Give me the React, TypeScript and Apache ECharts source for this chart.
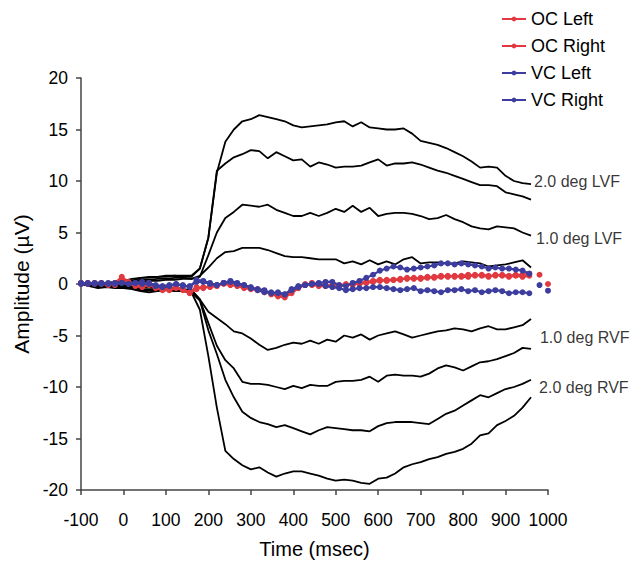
import React, { useEffect, useRef } from "react";
import * as echarts from "echarts";

// Time grid of the black evoked-response curves (msec)
const timeBlack = [-100, -80, -60, -40, -20,
  0, 20, 40, 60, 80, 100, 120, 140, 160,
  180, 200, 220, 240, 260, 280, 300, 320, 340, 360,
  380, 400, 420, 440, 460, 480, 500, 520, 540, 560,
  580, 600, 620, 640, 660, 680, 700, 720, 740, 760,
  780, 800, 820, 840, 860, 880, 900, 920, 940, 960];

const posA = [0.1, 0.1, 0.0, 0.1, 0.2,
  0.2, 0.3, 0.6, 0.7, 0.7, 0.7, 0.8, 0.8, 0.8,
  1.5, 4.5, 10.8, 13.8, 15.0, 15.8, 16.0, 16.4, 16.2, 16.0,
  15.8, 15.4, 15.2, 15.3, 15.4, 15.5, 15.7, 15.8, 15.3, 15.7,
  15.2, 15.1, 15.0, 15.0, 15.1, 14.6, 13.9, 13.7, 13.5, 13.2,
  12.8, 12.4, 11.9, 11.3, 11.4, 11.3, 10.5, 10.0, 9.8, 9.7];
const posB = [0.1, 0.0, 0.1, 0.0, 0.1,
  0.3, 0.5, 0.6, 0.6, 0.7, 0.8, 0.8, 0.7, 0.7,
  1.5, 4.5, 11.0, 11.7, 12.3, 12.6, 13.0, 12.9, 12.2, 12.8,
  12.4, 12.0, 12.1, 11.4, 11.8, 11.6, 11.3, 11.4, 11.4, 11.5,
  11.8, 12.1, 11.5, 11.7, 11.7, 11.8, 11.6, 11.3, 11.0, 10.8,
  10.5, 10.2, 9.9, 9.6, 9.6, 9.5, 8.9, 8.7, 8.5, 8.2];
const posC = [0.1, 0.0, 0.0, 0.1, 0.0,
  0.1, 0.3, 0.4, 0.4, 0.5, 0.5, 0.6, 0.6, 0.5,
  0.7, 2.8, 5.0, 6.4, 7.0, 7.7, 7.6, 7.5, 7.7, 7.2,
  6.9, 6.6, 6.6, 6.9, 6.6, 6.9, 7.3, 7.0, 7.6, 7.0,
  7.4, 6.6, 6.8, 6.9, 6.9, 6.8, 6.6, 6.3, 6.4, 6.7,
  6.3, 6.0, 5.6, 5.4, 5.3, 5.6, 5.5, 5.4, 5.0, 4.7];
const posD = [0.0, 0.0, -0.1, 0.0, 0.1,
  0.0, 0.1, 0.2, 0.3, 0.3, 0.4, 0.4, 0.5, 0.5,
  0.8, 1.6, 2.5, 3.1, 3.2, 3.5, 3.5, 3.5, 3.3, 3.0,
  2.7, 2.6, 2.6, 2.5, 2.4, 2.4, 2.4, 2.0, 2.2, 1.9,
  2.3, 1.9, 2.2, 1.9, 2.4, 2.6, 2.0, 2.1, 2.1, 2.0,
  2.0, 2.2, 2.1, 2.0, 1.7, 1.8, 1.9, 2.1, 2.3, 1.6];
const negA = [0.0, 0.1, -0.1, 0.0, -0.1,
  -0.1, -0.2, -0.3, -0.3, -0.4, -0.4, -0.4, -0.5, -0.6,
  -1.5, -2.7, -3.3, -3.9, -4.6, -4.8, -5.3, -5.9, -6.4, -6.2,
  -5.9, -5.7, -5.8, -5.5, -5.8, -5.4, -5.6, -5.0, -5.2, -4.9,
  -5.4, -5.0, -4.8, -4.6, -4.9, -5.2, -5.0, -4.8, -4.6, -4.5,
  -4.3, -4.4, -4.6, -4.3, -4.1, -4.4, -4.4, -4.2, -4.0, -3.4];
const negB = [0.0, 0.0, -0.2, -0.1, -0.2,
  -0.2, -0.3, -0.5, -0.5, -0.5, -0.6, -0.5, -0.6, -0.6,
  -1.5, -3.8, -6.0, -7.4, -8.2, -9.5, -9.7, -9.7, -9.8, -10.0,
  -10.2, -9.9, -10.1, -9.8, -9.9, -9.9, -9.5, -9.4, -9.4, -9.3,
  -9.0, -9.5, -8.9, -8.8, -8.9, -8.9, -9.0, -8.7, -8.2, -7.9,
  -8.1, -8.4, -8.0, -7.6, -7.5, -7.3, -7.0, -6.7, -6.2, -6.3];
const negC = [0.0, -0.1, -0.3, -0.2, -0.3,
  -0.3, -0.4, -0.6, -0.6, -0.6, -0.6, -0.6, -0.7, -0.8,
  -1.6, -4.5, -6.8, -9.3, -11.0, -12.4, -13.0, -13.4, -13.6, -13.9,
  -13.7, -14.0, -14.3, -14.6, -14.2, -13.9, -14.0, -14.1, -14.2, -14.2,
  -14.3, -13.8, -13.5, -13.4, -13.4, -13.4, -13.5, -13.6, -13.1, -12.6,
  -12.3, -11.8, -11.3, -10.8, -11.0, -10.6, -10.2, -10.0, -9.7, -9.3];
const negD = [0.0, -0.2, -0.4, -0.3, -0.4,
  -0.4, -0.5, -0.7, -0.8, -0.7, -0.6, -0.7, -0.7, -0.8,
  -2.5, -7.0, -12.0, -16.2, -17.0, -17.6, -18.0, -17.8, -18.3, -18.7,
  -18.4, -18.2, -18.2, -18.4, -18.6, -18.9, -19.1, -19.0, -19.1, -19.3,
  -19.4, -18.9, -18.8, -18.4, -17.8, -17.5, -17.3, -17.0, -16.8, -16.5,
  -16.3, -16.0, -15.5, -14.7, -14.5, -13.7, -13.3, -12.8, -12.0, -11.0];

// Time grid of the coloured (dotted) series (msec)
const timeColor = [-100, -84, -68, -52, -36, -20, -4, 12, 28, 44,
  60, 76, 92, 108, 124, 140, 156, 172, 188, 204,
  220, 236, 252, 268, 284, 300, 316, 332, 348, 364,
  380, 396, 412, 428, 444, 460, 476, 492, 508, 524,
  540, 556, 572, 588, 604, 620, 636, 652, 668, 684,
  700, 716, 732, 748, 764, 780, 796, 812, 828, 844,
  860, 876, 892, 908, 924, 940, 956];

const ocLeft = [0.1, 0.0, 0.1, 0.0, -0.1, 0.1, 0.7, 0.2, 0.0, -0.1,
  0.1, -0.3, -0.6, -0.4, -0.3, -0.5, -0.8, -0.3, -0.4, -0.2,
  -0.1, 0.0, -0.1, -0.2, -0.4, -0.5, -0.6, -0.7, -1.0, -1.2,
  -1.3, -0.9, -0.4, -0.1, 0.1, 0.0, -0.1, -0.2, -0.1, 0.0,
  -0.1, 0.1, 0.2, 0.3, 0.4, 0.3, 0.4, 0.5, 0.5, 0.6,
  0.5, 0.6, 0.7, 0.8, 0.7, 0.8, 0.7, 0.7, 0.9, 0.8,
  0.7, 0.9, 0.8, 0.7, 0.8, 0.7, 0.8];
const ocRight = [0.0, 0.1, 0.0, 0.1, 0.0, -0.1, 0.3, 0.1, -0.2, -0.3,
  -0.1, -0.4, -0.5, -0.6, -0.4, -0.6, -0.9, -0.5, -0.3, -0.3,
  -0.2, 0.1, 0.0, -0.1, -0.3, -0.4, -0.5, -0.8, -0.9, -1.1,
  -1.1, -0.7, -0.3, 0.0, -0.1, -0.2, -0.2, -0.1, -0.2, -0.1,
  0.0, 0.0, 0.1, 0.2, 0.3, 0.4, 0.4, 0.4, 0.6, 0.5,
  0.6, 0.7, 0.6, 0.7, 0.8, 0.7, 0.8, 0.9, 0.8, 0.9,
  0.8, 0.8, 0.9, 0.8, 0.9, 0.9, 1.0];
const vcLeft = [0.1, 0.0, 0.1, 0.1, 0.0, 0.1, 0.1, 0.0, 0.1, 0.2,
  0.0, -0.2, -0.3, -0.2, 0.0, -0.1, -0.3, 0.4, 0.3, 0.1,
  -0.1, 0.1, 0.3, 0.1, -0.1, -0.4, -0.5, -0.6, -0.9, -0.8,
  -1.0, -0.6, -0.3, -0.1, 0.0, 0.1, 0.2, 0.2, -0.1, -0.2,
  0.1, 0.3, 0.6, 0.9, 1.3, 1.5, 1.7, 1.6, 1.4, 1.5,
  1.6, 1.7, 1.8, 2.0, 2.0, 1.9, 2.0, 1.9, 1.8, 1.7,
  1.5, 1.6, 1.5, 1.5, 1.4, 1.3, 1.0];
const vcRight = [0.0, 0.1, 0.0, 0.0, 0.1, 0.0, 0.1, 0.0, 0.1, 0.0,
  0.1, -0.1, -0.2, -0.1, 0.0, -0.2, -0.2, 0.2, 0.2, 0.0,
  -0.1, 0.1, 0.2, 0.0, -0.1, -0.3, -0.6, -0.8, -0.8, -0.9,
  -1.0, -0.5, -0.2, -0.1, 0.0, 0.0, -0.2, -0.3, -0.4, -0.6,
  -0.5, -0.4, -0.4, -0.3, -0.3, -0.4, -0.5, -0.6, -0.5, -0.4,
  -0.7, -0.6, -0.7, -0.8, -0.6, -0.6, -0.5, -0.7, -0.6, -0.8,
  -0.7, -0.6, -0.7, -0.9, -0.8, -0.8, -0.9];

// Isolated trailing samples [time, value]
const ocLeftTail = [980, 0.9];
const ocRightTail = [1000, 0.0];
const vcLeftTail = [980, -0.1];
const vcRightTail = [1000, -0.65];

const annoTexts = ["2.0 deg LVF", "1.0 deg LVF", "1.0 deg RVF", "2.0 deg RVF"];
const annoTimes = [967, 972, 981, 979];
const annoValues = [10.0, 4.4, -5.2, -10.0];

const FONT = "'Liberation Sans', Arial, Helvetica, sans-serif";
const RED = "#e03a40";
const BLUE = "#3d3d9f";

export default function App() {
  const ref = useRef<HTMLDivElement>(null);
  useEffect(() => {
    if (!ref.current) return;
    const chart = echarts.init(ref.current, null, { renderer: "svg" });
    const blackCurves = [posA, posB, posC, posD, negA, negB, negC, negD];
    const blackSeries = blackCurves.map((c, k) => ({
      type: "line",
      name: "resp" + k,
      data: timeBlack.map((t, i) => [t, c[i]]),
      showSymbol: false,
      lineStyle: { color: "#000", width: 1.8 },
      itemStyle: { color: "#000" },
      silent: true,
      z: 2,
    }));
    const colored = [
      { name: "OC Left", vals: ocLeft, tail: ocLeftTail, color: RED },
      { name: "OC Right", vals: ocRight, tail: ocRightTail, color: RED },
      { name: "VC Left", vals: vcLeft, tail: vcLeftTail, color: BLUE },
      { name: "VC Right", vals: vcRight, tail: vcRightTail, color: BLUE },
    ];
    const colSeries = colored.map((s, k) => ({
      type: "line",
      name: s.name,
      data: [
        ...timeColor.map((t, i) => [t, s.vals[i]]),
        [970, null],
        s.tail,
      ],
      symbol: "circle",
      symbolSize: 6,
      showSymbol: true,
      showAllSymbol: true,
      connectNulls: false,
      lineStyle: { color: s.color, width: 2.2 },
      itemStyle: { color: s.color },
      silent: true,
      z: 3 + k,
    }));
    const annoSeries = {
      type: "scatter",
      name: "annotations",
      data: annoTexts.map((txt, i) => [annoTimes[i], annoValues[i], txt]),
      symbolSize: 0,
      silent: true,
      label: {
        show: true,
        position: "right",
        distance: 0,
        formatter: (p: any) => p.value[2],
        color: "#000",
        fontSize: 16,
        fontFamily: FONT,
      },
      z: 10,
    };
    chart.setOption({
      animation: false,
      backgroundColor: "#fff",
      textStyle: { fontFamily: FONT },
      grid: { left: 81, right: 94, top: 78, bottom: 74, containLabel: false },
      legend: {
        data: ["OC Left", "OC Right", "VC Left", "VC Right"],
        orient: "vertical",
        left: 496,
        top: 5,
        itemWidth: 24,
        itemHeight: 6,
        itemGap: 9,
        textStyle: { fontSize: 18, color: "#000", fontFamily: FONT },
      },
      xAxis: {
        type: "value",
        min: -100,
        max: 1000,
        interval: 100,
        name: "Time (msec)",
        nameLocation: "middle",
        nameGap: 49,
        nameTextStyle: { fontSize: 20, color: "#000", fontFamily: FONT },
        axisLine: { onZero: false, lineStyle: { color: "#444", width: 1.5 } },
        axisTick: { inside: false, length: 5, lineStyle: { color: "#444", width: 1.5 } },
        axisLabel: {
          fontSize: 17.5, color: "#000", margin: 21, fontFamily: FONT,
          formatter: (v: number) => String(v),
        },
        splitLine: { show: false },
      },
      yAxis: {
        type: "value",
        min: -20,
        max: 20,
        interval: 5,
        name: "Amplitude (µV)",
        nameLocation: "middle",
        nameRotate: 90,
        nameGap: 39,
        nameTextStyle: { fontSize: 21, color: "#000", fontFamily: FONT },
        axisLine: { show: true, onZero: false, lineStyle: { color: "#444", width: 1.5 } },
        axisTick: { show: true, inside: false, length: 5, lineStyle: { color: "#444", width: 1.5 } },
        axisLabel: {
          fontSize: 17.5, color: "#000", margin: 13, fontFamily: FONT,
          formatter: (v: number) => String(v),
        },
        splitLine: { show: false },
      },
      series: [...blackSeries, ...colSeries, annoSeries],
    });
    return () => chart.dispose();
  }, []);
  return <div ref={ref} style={{ width: 642, height: 564, position: "absolute", left: 0, top: 0 }} />;
}
